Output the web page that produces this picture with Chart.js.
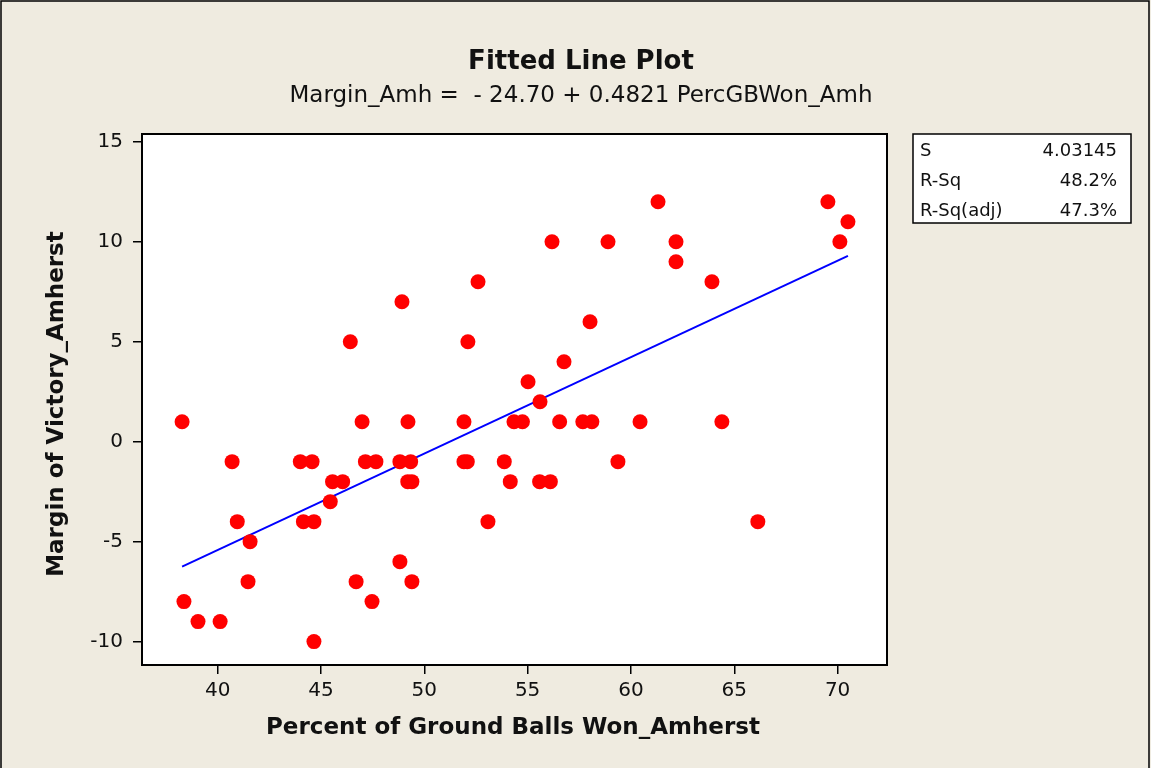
<!DOCTYPE html>
<html>
<head>
<meta charset="utf-8">
<title>Fitted Line Plot</title>
<script src="https://cdn.jsdelivr.net/npm/chart.js@4/dist/chart.umd.min.js"></script>
<style>
  html, body { margin: 0; padding: 0; background: #efebe0; }
  #wrap { width: 1151px; height: 768px; position: relative; }
</style>
</head>
<body>
<div id="wrap"><canvas id="chart" width="1151" height="768"></canvas></div>
<script>
// Percent of ground balls won (x) and margin of victory (y)
const GB_WON = [
  38.28, 38.37, 39.05, 40.12, 40.70, 40.95, 41.57, 41.47, 44.00, 44.57,
  44.15, 44.66, 44.66, 45.45, 45.56, 46.05, 46.42, 46.70, 46.99, 47.15,
  47.66, 47.47, 48.82, 48.82, 48.92, 49.21, 49.34, 49.20, 49.40, 49.40,
  51.92, 51.92, 52.08, 52.11, 52.60, 53.08, 53.87, 54.16, 54.34, 54.75,
  55.02, 55.58, 55.60, 56.10, 56.18, 56.55, 56.76, 57.67, 58.11, 58.02,
  58.89, 59.37, 60.44, 61.31, 62.18, 62.18, 63.92, 64.40, 66.14, 69.53,
  70.11, 70.50
];
const MARGIN = [
  1, -8, -9, -9, -1, -4, -5, -7, -1, -1,
  -4, -4, -10, -3, -2, -2, 5, -7, 1, -1,
  -1, -8, -6, -1, 7, 1, -1, -2, -2, -7,
  1, -1, -1, 5, 8, -4, -1, -2, 1, 1,
  3, -2, 2, -2, 10, 1, 4, 1, 1, 6,
  10, -1, 1, 12, 10, 9, 8, 1, -4, 12,
  10, 11
];
// fitted line end points (Margin = -24.70 + 0.4821 PercGB)
const FIT_X = [38.28, 70.50];
const FIT_Y = [-6.25, 9.29];

const X_TICKS = [40, 45, 50, 55, 60, 65, 70];
const Y_TICKS = [-10, -5, 0, 5, 10, 15];

const STATS = [
  ["S", "4.03145"],
  ["R-Sq", "48.2%"],
  ["R-Sq(adj)", "47.3%"]
];

const FONT = "'DejaVu Sans', Verdana, sans-serif";
const INK = "#111";

// Rahmen, Titel, Achsentitel und Statistik-Box
const decor = {
  id: "decor",
  beforeDraw(chart) {
    const { ctx, chartArea: a } = chart;
    ctx.save();
    ctx.fillStyle = "#fff";
    ctx.fillRect(a.left, a.top, a.right - a.left, a.bottom - a.top);
    ctx.restore();
  },
  afterDraw(chart) {
    const { ctx, chartArea: a } = chart;
    ctx.save();
    // outer frame
    ctx.strokeStyle = "#000";
    ctx.lineWidth = 1.5;
    ctx.beginPath();
    ctx.moveTo(1, 768); ctx.lineTo(1, 1); ctx.lineTo(1149, 1); ctx.lineTo(1149, 768);
    ctx.stroke();

    // plot frame
    ctx.lineWidth = 2;
    ctx.strokeRect(a.left, a.top, a.right - a.left, a.bottom - a.top);

    ctx.fillStyle = INK;
    ctx.textAlign = "center";
    ctx.textBaseline = "middle";
    ctx.font = "bold 26px " + FONT;
    ctx.fillText("Fitted Line Plot", 581, 62);
    ctx.font = "23px " + FONT;
    ctx.fillText("Margin_Amh =  - 24.70 + 0.4821 PercGBWon_Amh", 581, 96);

    ctx.font = "bold 23px " + FONT;
    ctx.fillText("Percent of Ground Balls Won_Amherst", 513, 728);
    ctx.save();
    ctx.translate(57, 404);
    ctx.rotate(-Math.PI / 2);
    ctx.fillText("Margin of Victory_Amherst", 0, 0);
    ctx.restore();

    // stats box
    ctx.fillStyle = "#fff";
    ctx.fillRect(913, 134, 218, 89);
    ctx.lineWidth = 1.5;
    ctx.strokeRect(913, 134, 218, 89);
    ctx.fillStyle = INK;
    ctx.font = "18px " + FONT;
    STATS.forEach((row, i) => {
      const y = 151 + i * 30;
      ctx.textAlign = "left";
      ctx.fillText(row[0], 920, y);
      ctx.textAlign = "right";
      ctx.fillText(row[1], 1117, y);
    });
    ctx.restore();
  }
};

const ctx = document.getElementById("chart").getContext("2d");
new Chart(ctx, {
  type: "scatter",
  data: {
    datasets: [
      {
        data: GB_WON.map((x, i) => ({ x: x, y: MARGIN[i] })),
        pointRadius: 7.5,
        pointBackgroundColor: "#ff0000",
        pointBorderWidth: 0,
        order: 1
      },
      {
        data: FIT_X.map((x, i) => ({ x: x, y: FIT_Y[i] })),
        showLine: true,
        borderColor: "#0000ff",
        borderWidth: 2,
        pointRadius: 0,
        order: 2
      }
    ]
  },
  options: {
    responsive: false,
    animation: false,
    events: [],
    layout: { padding: { left: 0, right: 264, top: 134, bottom: 0 } },
    plugins: { legend: { display: false }, tooltip: { enabled: false } },
    scales: {
      x: {
        min: 36.34,
        max: 72.39,
        afterBuildTicks: (s) => { s.ticks = X_TICKS.map((v) => ({ value: v })); },
        afterFit: (s) => { s.height = 103; },
        grid: { drawOnChartArea: false, color: "#000", lineWidth: 1.5, tickLength: 9 },
        border: { display: false },
        ticks: { color: INK, font: { family: FONT, size: 20 }, padding: 5, maxRotation: 0 }
      },
      y: {
        min: -11.17,
        max: 15.39,
        afterBuildTicks: (s) => { s.ticks = Y_TICKS.map((v) => ({ value: v })); },
        afterFit: (s) => { s.width = 142; },
        grid: { drawOnChartArea: false, color: "#000", lineWidth: 1.5, tickLength: 9 },
        border: { display: false },
        ticks: { color: INK, font: { family: FONT, size: 20 }, padding: 10 }
      }
    }
  },
  plugins: [decor]
});
</script>
</body>
</html>
